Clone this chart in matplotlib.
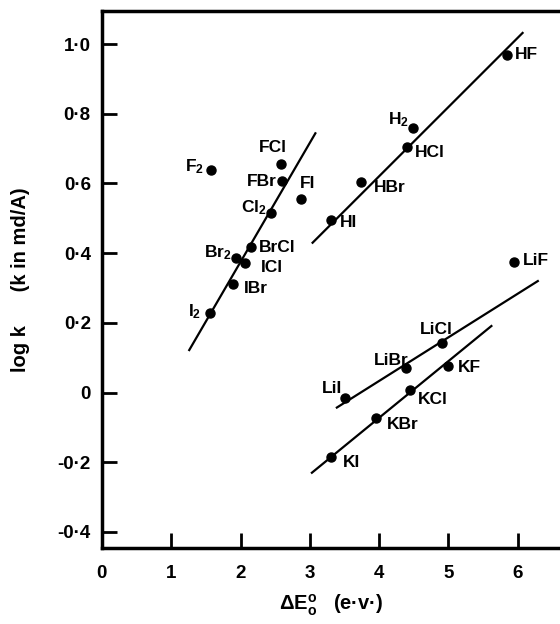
import matplotlib
matplotlib.use("Agg")
import matplotlib.pyplot as plt

# molecules and values
names = ['HF', 'H$_2$', 'HCl', 'HBr', 'HI', 'LiF',
         'F$_2$', 'FCl', 'FBr', 'FI', 'Cl$_2$', 'BrCl', 'Br$_2$', 'ICl', 'IBr', 'I$_2$',
         'LiCl', 'LiBr', 'LiI', 'KF', 'KCl', 'KBr', 'KI']
dE = [5.84, 4.49, 4.40, 3.74, 3.31, 5.95,
      1.57, 2.58, 2.60, 2.87, 2.44, 2.15, 1.94, 2.06, 1.89, 1.56,
      4.91, 4.39, 3.51, 5.00, 4.44, 3.95, 3.31]
logk = [0.97, 0.76, 0.705, 0.605, 0.495, 0.375,
        0.64, 0.656, 0.607, 0.555, 0.514, 0.419, 0.387, 0.371, 0.311, 0.229,
        0.141, 0.071, -0.016, 0.077, 0.007, -0.072, -0.184]

# hand-drawn trend lines (end points)
halogen_x = [1.26, 3.08]
halogen_y = [0.122, 0.744]
hydride_x = [3.04, 6.07]
hydride_y = [0.43, 1.032]
lithium_x = [3.39, 6.29]
lithium_y = [-0.043, 0.32]
potassium_x = [3.03, 5.62]
potassium_y = [-0.23, 0.191]

xticks = [0, 1, 2, 3, 4, 5, 6]
yticks = [1.0, 0.8, 0.6, 0.4, 0.2, 0.0, -0.2, -0.4]
ytick_labels = ['1·0', '0·8', '0·6', '0·4', '0·2', '0', '-0·2', '-0·4']

# label placement: (dx, dy) in points, horizontal alignment
label_pos = {
    'HF': (6, 0, 'left'), 'H$_2$': (-3, 6, 'right'), 'HCl': (6, -4, 'left'),
    'HBr': (9, -4, 'left'), 'HI': (6, -2, 'left'), 'LiF': (6, 1, 'left'),
    'F$_2$': (-5, 2, 'right'), 'FCl': (-6, 12, 'center'), 'FBr': (-4, 0, 'right'),
    'FI': (5, 11, 'center'), 'Cl$_2$': (-3, 4, 'right'), 'BrCl': (6, -1, 'left'),
    'Br$_2$': (-3, 4, 'right'), 'ICl': (12, -3, 'left'), 'IBr': (8, -3, 'left'),
    'I$_2$': (-6, 1, 'right'), 'LiCl': (-4, 10, 'center'), 'LiBr': (-11, 5, 'center'),
    'LiI': (-2, 7, 'right'), 'KF': (7, -1, 'left'), 'KCl': (6, -7, 'left'),
    'KBr': (8, -5, 'left'), 'KI': (8, -4, 'left'),
}

plt.rcParams['font.family'] = ['Liberation Sans', 'DejaVu Sans']
plt.rcParams['font.weight'] = 'bold'
plt.rcParams['mathtext.fontset'] = 'custom'
plt.rcParams['mathtext.rm'] = 'Liberation Sans:bold'
plt.rcParams['mathtext.bf'] = 'Liberation Sans:bold'
plt.rcParams['mathtext.default'] = 'rm'

fig = plt.figure(figsize=(5.6, 6.24), dpi=100)
ax = fig.add_axes([0.182, 0.1218, 0.818, 0.8606])

for lx, ly in [(halogen_x, halogen_y), (hydride_x, hydride_y),
               (lithium_x, lithium_y), (potassium_x, potassium_y)]:
    ax.plot(lx, ly, color='black', lw=1.6)

ax.plot(dE, logk, 'o', color='black', markersize=6.5)

for n, x, y in zip(names, dE, logk):
    dx, dy, ha = label_pos[n]
    ax.annotate(n, (x, y), xytext=(dx, dy), textcoords='offset points',
                ha=ha, va='center', fontsize=12.5, fontweight='bold')

ax.set_xlim(0, 6.61)
ax.set_ylim(-0.446, 1.095)
ax.set_xticks(xticks)
ax.set_xticklabels([str(t) for t in xticks])
ax.set_yticks(yticks)
ax.set_yticklabels(ytick_labels)
ax.tick_params(direction='in', length=11, width=2, labelsize=13.5, pad=8)
ax.tick_params(axis='x', pad=12)

for s in ['left', 'bottom', 'top']:
    ax.spines[s].set_linewidth(2.5)
ax.spines['right'].set_visible(False)

ax.set_xlabel(r'$\Delta$E$^{o}_{o}$   (e·v·)', fontsize=14.5,
              fontweight='bold', labelpad=8)
ax.set_ylabel('log k      (k in md/A)', fontsize=14.5, fontweight='bold',
              labelpad=20)

fig.savefig('out.png', dpi=100)
